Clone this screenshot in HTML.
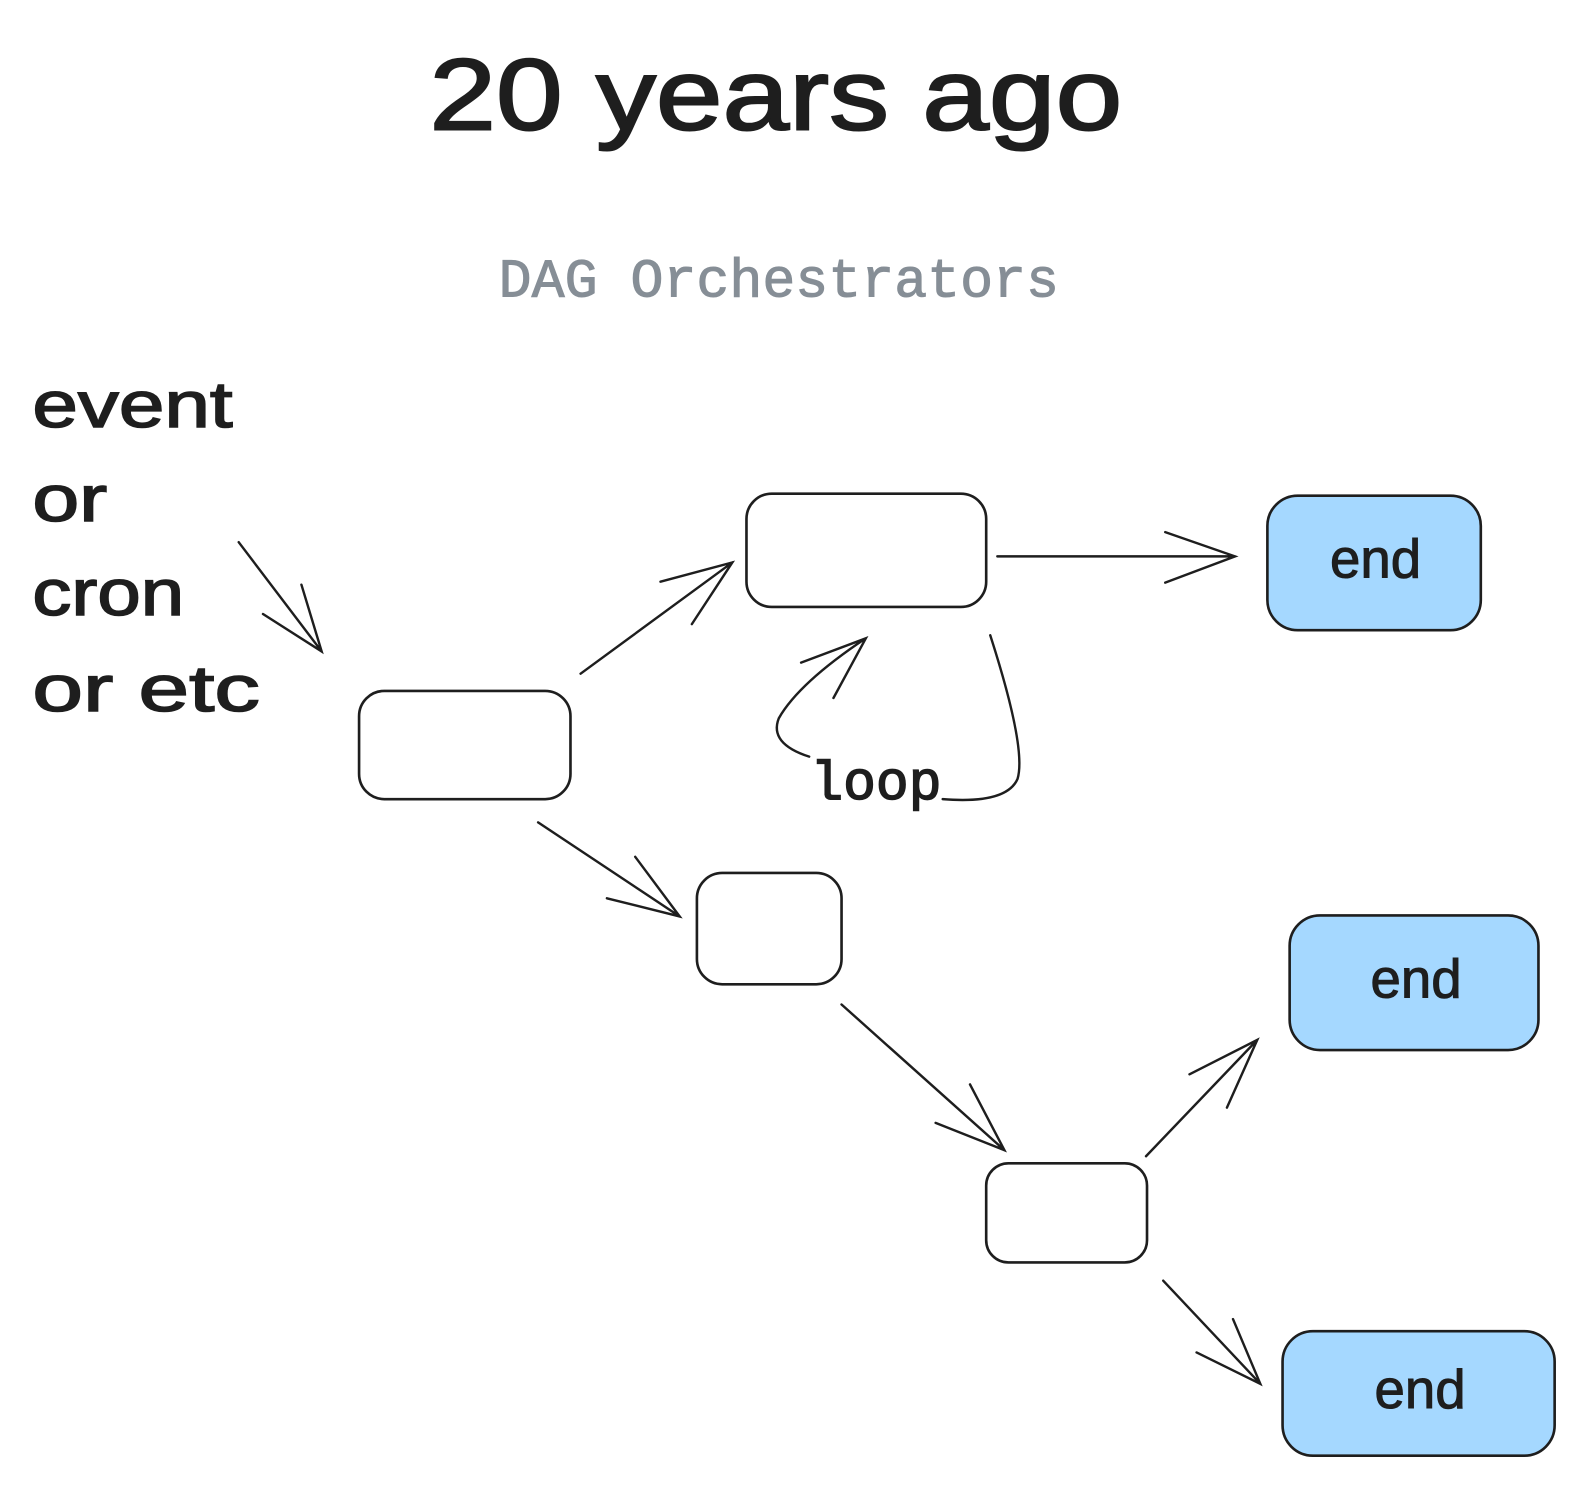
<!DOCTYPE html>
<html><head><meta charset="utf-8"><style>html,body{margin:0;padding:0;background:#fff}svg{display:block}</style></head>
<body>
<svg width="1586" height="1486" viewBox="0 0 1568 1469" preserveAspectRatio="none" xmlns="http://www.w3.org/2000/svg">
<rect width="1568" height="1469" fill="#fff"/>
<text x="767" y="128" text-anchor="middle" font-family="Liberation Sans, sans-serif" font-size="100" fill="#1e1e1e" stroke="#1e1e1e" stroke-width="2" textLength="685" lengthAdjust="spacingAndGlyphs">20 years ago</text>
<text x="770" y="293" text-anchor="middle" font-family="Liberation Mono, monospace" font-size="54" fill="#868e96" stroke="#868e96" stroke-width="1" textLength="554" lengthAdjust="spacingAndGlyphs">DAG Orchestrators</text>
<g font-family="Liberation Sans, sans-serif" font-size="64" fill="#1e1e1e" stroke="#1e1e1e" stroke-width="1.5">
<text x="32" y="422" textLength="198" lengthAdjust="spacingAndGlyphs">event</text>
<text x="32" y="515" textLength="74" lengthAdjust="spacingAndGlyphs">or</text>
<text x="32" y="608" textLength="150" lengthAdjust="spacingAndGlyphs">cron</text>
<text x="32" y="703" textLength="225" lengthAdjust="spacingAndGlyphs">or etc</text>
</g>
<g stroke="#1e1e1e" stroke-width="2.6" fill="#fff">
<rect x="355" y="683" width="209" height="107" rx="25"/>
<rect x="738" y="488" width="237" height="112" rx="25"/>
<rect x="689" y="863" width="143" height="110" rx="25"/>
<rect x="975" y="1150" width="159" height="98" rx="22"/>
<rect x="1253" y="490" width="211" height="133" rx="30" fill="#a5d8ff"/>
<rect x="1275" y="905" width="246" height="133" rx="30" fill="#a5d8ff"/>
<rect x="1268" y="1316" width="269" height="123" rx="30" fill="#a5d8ff"/>
</g>
<g font-family="Liberation Sans, sans-serif" font-size="54" fill="#1e1e1e" stroke="#1e1e1e" stroke-width="1" text-anchor="middle">
<text x="1360" y="571">end</text>
<text x="1400" y="986">end</text>
<text x="1404" y="1392">end</text>
</g>
<text x="866" y="790" text-anchor="middle" font-family="Liberation Mono, monospace" font-size="54" fill="#1e1e1e" stroke="#1e1e1e" stroke-width="1.5">loop</text>
<g stroke="#1e1e1e" stroke-width="2.4" fill="none" stroke-linecap="round">
<path d="M236 536 L318 644 M260 607 L318 644 L298 578"/>
<path d="M574 666 L724 556 M653 575 L724 556 L684 617"/>
<path d="M986 550 L1221 550 M1152 526 L1221 550 L1152 576"/>
<path d="M979 628 Q1015 740 1006 770 Q995 795 932 790"/>
<path d="M800 748 Q760 735 770 710 Q790 675 856 631 M792 655 L856 631 L824 690"/>
<path d="M532 813 L672 906 M600 888 L672 906 L628 847"/>
<path d="M832 993 L993 1137 M925 1110 L993 1137 L959 1072"/>
<path d="M1133 1143 L1243 1028 M1176 1062 L1243 1028 L1213 1095"/>
<path d="M1150 1266 L1246 1368 M1183 1337 L1246 1368 L1219 1304"/>
</g>
</svg>
</body></html>
